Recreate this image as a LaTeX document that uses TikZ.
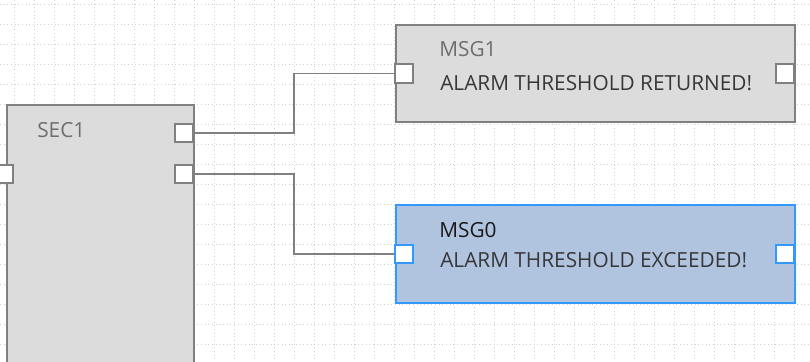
\documentclass[tikz,border=0pt]{standalone}
\usepackage{fontspec}
\setmainfont{Open Sans}
\usepackage{xcolor}
\usetikzlibrary{positioning,calc}

\definecolor{boxgray}{RGB}{220,220,220}
\definecolor{edgegray}{RGB}{128,128,128}
\definecolor{selfill}{RGB}{176,196,224}
\definecolor{selblue}{RGB}{51,153,255}
\definecolor{titlegray}{RGB}{110,110,110}
\definecolor{textdark}{RGB}{55,55,55}

\begin{document}
\begin{tikzpicture}[x=0.025cm, y=-0.025cm]
  \tikzstyle{block}=[rectangle, draw=edgegray, fill=boxgray, line width=1.4pt, anchor=north west, inner sep=0pt]
  \tikzstyle{selected}=[block, draw=selblue, fill=selfill, line width=1.1pt]
  \tikzstyle{port}=[rectangle, draw=edgegray, fill=white, line width=1.5pt, minimum width=0.45cm, minimum height=0.46cm, inner sep=0pt]
  \tikzstyle{selport}=[port, draw=selblue, line width=1.2pt]
  \tikzstyle{title}=[anchor=west, font=\fontsize{14.8}{17}\selectfont, text=titlegray, inner sep=0pt]
  \tikzstyle{msg}=[anchor=west, font=\fontsize{14.8}{17}\selectfont, text=textdark, inner sep=0pt]
  \tikzstyle{wire}=[-, draw=edgegray, line width=1.3pt]

  \useasboundingbox (0,0) rectangle (810,362);
  \clip (0,0) rectangle (810,362);
  \fill[white] (0,0) rectangle (810,362);

  % Raster im Hintergrund
  \foreach \gx in {14,34,...,810} \draw[gray!35, dotted, line width=0.6pt] (\gx,0) -- (\gx,362);
  \foreach \gy in {4,24,...,362} \draw[gray!35, dotted, line width=0.6pt] (0,\gy) -- (810,\gy);

  % Bausteine
  \node[block, minimum width=4.675cm, minimum height=7cm] (sec1) at (6,104) {};
  \node[block, minimum width=9.975cm, minimum height=2.425cm] (msg1) at (395,24) {};
  \node[selected, minimum width=9.975cm, minimum height=2.45cm] (msg0) at (395,204) {};

  % Texte
  \node[title] (sec1t) at (37,130) {SEC1};
  \node[title] (msg1t) at (439,49) {MSG1};
  \node[msg] (msg1m) at (440,83) {ALARM THRESHOLD RETURNED!};
  \node[title, text=black!90] (msg0t) at (439,230) {MSG0};
  \node[msg] (msg0m) at (440,260) {ALARM THRESHOLD EXCEEDED!};

  % Anschluesse
  \node[port] (sec1in) at (4,174) {};
  \node[port] (sec1o1) at (184,133) {};
  \node[port] (sec1o2) at (184,174) {};
  \node[port] (msg1in) at (404,73.5) {};
  \node[port] (msg1out) at (785,73.5) {};
  \node[selport] (msg0in) at (404,254) {};
  \node[selport] (msg0out) at (785,254) {};

  % Verbindungen
  \draw[wire] (sec1o1.east) -| ($(sec1o1.east)!0.5!(msg1in.west)$) |- (msg1in.west);
  \draw[wire] (sec1o2.east) -| ($(sec1o2.east)!0.5!(msg0in.west)$) |- (msg0in.west);
\end{tikzpicture}
\end{document}
